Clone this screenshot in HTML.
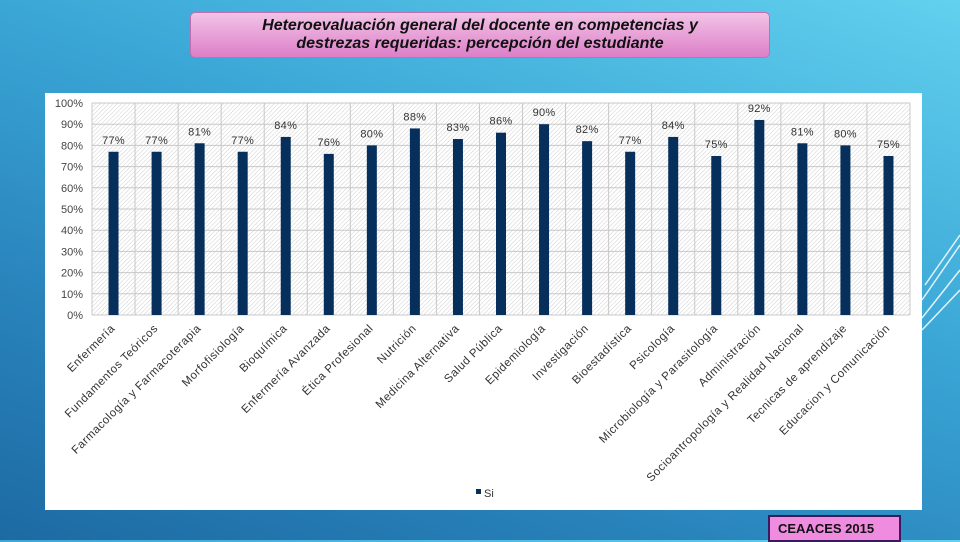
<!DOCTYPE html>
<html><head><meta charset="utf-8"><style>
html,body{margin:0;padding:0;}
body{width:960px;height:540px;overflow:hidden;position:relative;font-family:"Liberation Sans",sans-serif;
background:linear-gradient(200deg,#62d0ee 0%,#3aa6d6 40%,#2a85bd 70%,#1d6aa3 100%);}
#title{position:absolute;left:190px;top:12px;width:580px;height:46px;border-radius:5px;
background:linear-gradient(#f2c3e6,#dd7fc8);border:1px solid #c070b0;box-sizing:border-box;
text-align:center;font-weight:bold;font-style:italic;font-size:16px;line-height:18px;padding-top:4px;color:#111;}
#panel{position:absolute;left:45px;top:93px;width:877px;height:417px;background:#fff;}
#foot{position:absolute;left:768px;top:515px;width:133px;height:27px;background:#f08ce0;border:2px solid #3a1a5a;
box-sizing:border-box;font-weight:bold;font-size:13px;line-height:23px;padding-left:8px;color:#111;}
</style></head><body>
<div id="title">Heteroevaluación general del docente en competencias y<br>destrezas requeridas: percepción del estudiante</div>
<div id="panel"></div>
<svg id="chart" width="960" height="540" style="position:absolute;left:0;top:0">
<defs><pattern id="hatch" width="3" height="3" patternUnits="userSpaceOnUse" patternTransform="rotate(45)">
<line x1="0" y1="0" x2="0" y2="3" stroke="#cfcfcf" stroke-width="1"/></pattern></defs>
</svg>
<svg width="960" height="540" style="position:absolute;left:0;top:0;pointer-events:none">
<g stroke="#fff" stroke-width="1.5" fill="none" opacity="0.85">
<line x1="922" y1="330" x2="960" y2="290"/><line x1="922" y1="318" x2="960" y2="270"/><line x1="922" y1="300" x2="960" y2="245"/><line x1="925" y1="285" x2="960" y2="235"/>
</g></svg>
<div id="foot">CEAACES 2015</div>
<script>
const categories=["Enfermería","Fundamentos Teóricos","Farmacología y Farmacoterapia","Morfofisiología","Bioquímica","Enfermería Avanzada","Ética Profesional","Nutrición","Medicina Alternativa","Salud Pública","Epidemiología","Investigación","Bioestadística","Psicología","Microbiología y Parasitología","Administración","Socioantropología y Realidad Nacional","Tecnicas de aprendizaje","Educacion y Comunicación"];
const values=[77,77,81,77,84,76,80,88,83,86,90,82,77,84,75,92,81,80,75];
const ticks=[0,10,20,30,40,50,60,70,80,90,100];
const NS="http://www.w3.org/2000/svg";
const svg=document.getElementById('chart');
const L=92,R=910,T=103,B=315;
const band=(R-L)/categories.length;
const y=v=>B-(v/100)*(B-T);
const x=i=>L+band*(i+0.5);
function mk(t,a){const e=document.createElementNS(NS,t);for(const k in a)e.setAttribute(k,a[k]);svg.appendChild(e);return e;}
const bg=mk('rect',{x:L,y:T,width:R-L,height:B-T,fill:'url(#hatch)'});


ticks.forEach(t=>{
 const g=mk('line',{x1:L,x2:R,y1:y(t),y2:y(t),stroke:'#c8c8c8'});
 
 
 const tx=mk('text',{x:83,y:y(t)+4,'text-anchor':'end','font-size':11,fill:'#444'});
 tx.textContent=t+'%';
 
 
});
for(let i=0;i<=categories.length;i++){
 const g=mk('line',{x1:L+band*i,x2:L+band*i,y1:T,y2:B,stroke:'#c8c8c8'});
 
 
}
categories.forEach((c,i)=>{
 const v=values[i];
 const b=mk('rect',{x:x(i)-5,y:y(v),width:10,height:B-y(v),fill:'#062f5c'});
 
 
 const lb=mk('text',{x:x(i),y:y(v)-8,'text-anchor':'middle','font-size':11,fill:'#333','letter-spacing':'0.3'});
 lb.textContent=v+'%';
 
 
 const ax=x(i)+2, ay=B+14;
 const xl=mk('text',{x:ax,y:ay,'text-anchor':'end','font-size':11.5,fill:'#333','letter-spacing':'0.5',transform:`rotate(-45 ${ax} ${ay})`});
 xl.textContent=c;
 
 
});
const ls=mk('rect',{x:476,y:489,width:5,height:5,fill:'#062f5c'});


const lt=mk('text',{x:484,y:497,'font-size':11,fill:'#333'});
lt.textContent='Si';


</script>
</body></html>
